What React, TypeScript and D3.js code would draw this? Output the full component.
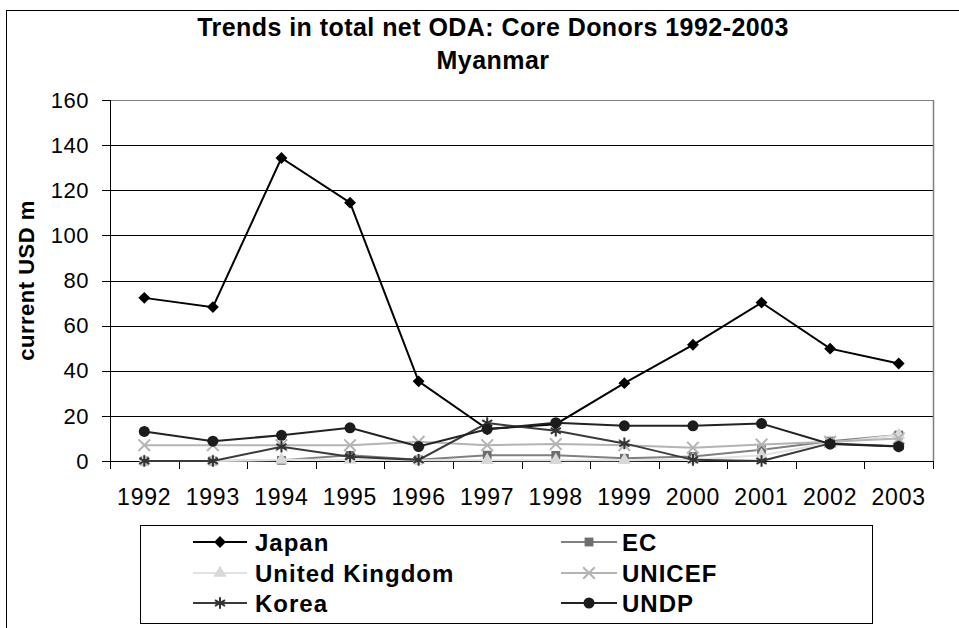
import React from 'react';
import * as d3 from 'd3';

const years = ['1992', '1993', '1994', '1995', '1996', '1997', '1998', '1999', '2000', '2001', '2002', '2003'];
const japan = [72.3, 68.2, 134.3, 114.5, 35.3, 14.2, 16.3, 34.5, 51.5, 70.2, 49.8, 43.2];
const ec = [0, 0, 0.3, 2.5, 0.5, 2.6, 2.5, 1.2, 2.0, 5.0, 8.8, 11.5];
const unitedKingdom = [0, 0, 0.5, 0.5, 0.3, 0.3, 0.3, 0.3, 0.5, 2.5, 8.0, 11.5];
const unicef = [7.0, 7.0, 7.0, 7.0, 8.5, 7.0, 7.5, 7.0, 5.9, 7.3, 8.5, 10.0];
const korea = [0, 0, 6.3, 1.9, 0.5, 16.8, 13.4, 7.8, 0.5, 0, 7.8, 6.5];
const undp = [13.1, 8.8, 11.4, 14.7, 6.4, 14.1, 17.0, 15.6, 15.6, 16.6, 7.5, 6.4];
const yTicks = [0, 20, 40, 60, 80, 100, 120, 140, 160];

const font = '"Liberation Sans", Arial, sans-serif';

// series in legend order (drawn in this order, last on top)
const series = [
  { name: 'Japan', values: japan, line: '#000', mark: '#000', symbol: d3.symbolDiamond2, size: 90, stroked: false, col: 0, row: 0 },
  { name: 'EC', values: ec, line: '#808080', mark: '#6e6e6e', symbol: d3.symbolSquare, size: 78, stroked: false, col: 1, row: 0 },
  { name: 'United Kingdom', values: unitedKingdom, line: '#e2e2e2', mark: '#d8d8d8', symbol: d3.symbolTriangle, size: 75, stroked: false, col: 0, row: 1 },
  { name: 'UNICEF', values: unicef, line: '#b4b4b4', mark: '#b4b4b4', symbol: d3.symbolTimes, size: 90, stroked: true, col: 1, row: 1 },
  { name: 'Korea', values: korea, line: '#3a3a3a', mark: '#333', symbol: d3.symbolAsterisk, size: 95, stroked: true, col: 0, row: 2 },
  { name: 'UNDP', values: undp, line: '#222', mark: '#1c1c1c', symbol: d3.symbolCircle, size: 95, stroked: false, col: 1, row: 2 },
];

const W = 959;
const H = 628;
const plot = { left: 110, right: 933, top: 100, bottom: 461 };

export default function App() {
  const x = d3.scaleBand().domain(years).range([plot.left, plot.right]).padding(0);
  const y = d3.scaleLinear().domain([0, 160]).range([plot.bottom, plot.top]);
  const cx = (d: string) => (x(d) as number) + x.bandwidth() / 2;

  const line = d3.line<number>()
    .x((_, i) => cx(years[i]))
    .y(d => y(d));

  const marker = (s: typeof series[number], px: number, py: number, key: string) => {
    const p = d3.symbol().type(s.symbol).size(s.size)() as string;
    return (
      <path
        key={key}
        d={p}
        transform={`translate(${px},${py})`}
        fill={s.stroked ? 'none' : s.mark}
        stroke={s.stroked ? s.mark : 'none'}
        strokeWidth={s.stroked ? 2 : 0}
      />
    );
  };

  const legend = { x: 140, y: 525, w: 732, h: 98 };
  const legendRows = [542, 573, 603];
  const legendCols = [{ x0: 193, x1: 247, tx: 255 }, { x0: 561, x1: 617, tx: 622 }];

  return (
    <svg width={W} height={H} style={{ position: 'absolute', left: 0, top: 0, background: '#fff' }} fontFamily={font}>
      <rect x={0} y={0} width={W} height={H} fill="#fff" />
      {/* outer chart frame, runs off the right and bottom */}
      <rect x={6.5} y={10.5} width={990} height={660} fill="none" stroke="#000" strokeWidth={1} />

      <text x={493} y={36} textAnchor="middle" fontSize={25} fontWeight="bold" letterSpacing={0.45}>
        Trends in total net ODA: Core Donors 1992-2003
      </text>
      <text x={493} y={69} textAnchor="middle" fontSize={25} fontWeight="bold" letterSpacing={0.45}>
        Myanmar
      </text>

      {/* gridlines */}
      {yTicks.map(t => (
        <line key={'g' + t} x1={plot.left} x2={plot.right} y1={Math.round(y(t)) + 0.5} y2={Math.round(y(t)) + 0.5}
          stroke={t === 160 ? '#808080' : '#000'} strokeWidth={1} />
      ))}
      <line x1={plot.right + 0.5} x2={plot.right + 0.5} y1={plot.top} y2={plot.bottom} stroke="#808080" strokeWidth={1.5} />

      {/* y axis */}
      <line x1={plot.left + 0.5} x2={plot.left + 0.5} y1={plot.top} y2={plot.bottom + 1} stroke="#000" />
      {yTicks.map(t => (
        <g key={'yt' + t}>
          <line x1={plot.left - 8} x2={plot.left} y1={Math.round(y(t)) + 0.5} y2={Math.round(y(t)) + 0.5} stroke="#000" />
          <text x={89} y={y(t)} dy="0.35em" textAnchor="end" fontSize={22} letterSpacing={0.5}>{t}</text>
        </g>
      ))}
      <text transform={`translate(34,${(plot.top + plot.bottom) / 2}) rotate(-90)`} textAnchor="middle" fontSize={22} fontWeight="bold" letterSpacing={0.5}>
        current USD m
      </text>

      {/* x axis */}
      {years.map(yr => (
        <g key={'xt' + yr}>
          <line x1={Math.round(x(yr) as number) + 0.5} x2={Math.round(x(yr) as number) + 0.5} y1={plot.bottom} y2={plot.bottom + 8} stroke="#000" />
          <text x={cx(yr)} y={505} textAnchor="middle" fontSize={23} letterSpacing={0.8}>{yr}</text>
        </g>
      ))}
      <line x1={plot.right + 0.5} x2={plot.right + 0.5} y1={plot.bottom} y2={plot.bottom + 8} stroke="#000" />

      {/* series */}
      {series.map(s => (
        <g key={s.name}>
          <path d={line(s.values) as string} fill="none" stroke={s.line} strokeWidth={2} />
          {s.values.map((v, i) => marker(s, cx(years[i]), y(v), s.name + i))}
        </g>
      ))}

      {/* legend */}
      <rect x={legend.x + 0.5} y={legend.y + 0.5} width={legend.w} height={legend.h} fill="#fff" stroke="#000" />
      {series.map(s => {
        const c = legendCols[s.col];
        const ly = legendRows[s.row];
        return (
          <g key={'lg' + s.name}>
            <line x1={c.x0} x2={c.x1} y1={ly} y2={ly} stroke={s.line} strokeWidth={2} />
            {marker(s, (c.x0 + c.x1) / 2, ly, 'lm' + s.name)}
            <text x={c.tx} y={ly} dy="0.36em" fontSize={24} fontWeight="bold" letterSpacing={1}>{s.name}</text>
          </g>
        );
      })}
    </svg>
  );
}
